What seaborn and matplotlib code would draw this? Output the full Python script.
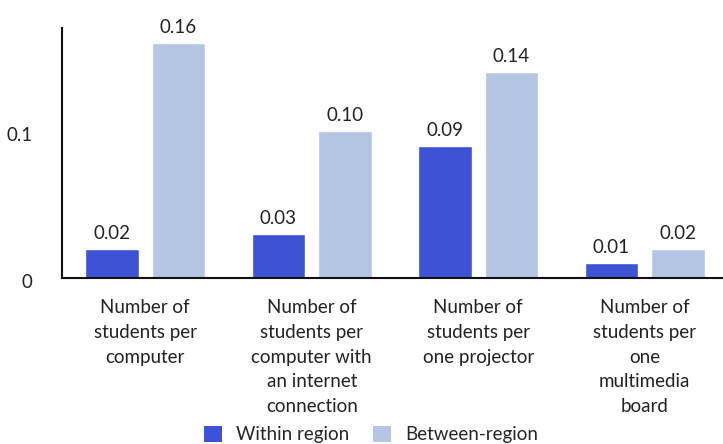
import numpy as np
import pandas as pd
import matplotlib.pyplot as plt
import matplotlib.transforms as mtransforms
import seaborn as sns
from matplotlib.patches import Patch

# 데이터
categories = ["Number of\nstudents per\ncomputer",
              "Number of\nstudents per\ncomputer with\nan internet\nconnection",
              "Number of\nstudents per\none projector",
              "Number of\nstudents per\none\nmultimedia\nboard"]
within_region = [0.02, 0.03, 0.09, 0.01]
between_region = [0.16, 0.10, 0.14, 0.02]
series_names = ["Within region", "Between-region"]
colors = ["#3E52D6", "#B4C6E4"]

df = pd.DataFrame({
    "category": categories * 2,
    "value": within_region + between_region,
    "series": [series_names[0]] * 4 + [series_names[1]] * 4,
})

sns.set_style("white")
plt.rcParams['font.family'] = ['Lato', 'DejaVu Sans']
fs = 13.5

fig = plt.figure(figsize=(7.23, 4.44), dpi=100)
ax = fig.add_axes([62 / 723, 1 - 278 / 444, 1 - 62 / 723, (278 - 28) / 444])

sns.barplot(data=df, x="category", y="value", hue="series", palette=colors,
            width=0.8, gap=0.2, ax=ax, legend=False, saturation=1)

for cont in ax.containers:
    ax.bar_label(cont, fmt="%.2f", padding=5, fontsize=fs, color="#222222")

ax.set_ylim(0, 0.17)
ax.set_xlim(-0.5, 3.47)
ax.set_yticks([0, 0.1])
ax.set_yticklabels(["0", "0.1"])
ax.set_xlabel("")
ax.set_ylabel("")
ax.tick_params(axis="y", length=0, pad=21, labelsize=fs, colors="#222222")
ax.tick_params(axis="x", length=0, pad=15, labelsize=fs, colors="#222222")
for lab in ax.get_xticklabels():
    lab.set_linespacing(1.56)
# y 라벨 살짝 아래로
shift = mtransforms.ScaledTranslation(0, -3 / 100, fig.dpi_scale_trans)
for lab in ax.get_yticklabels():
    lab.set_transform(lab.get_transform() + shift)

sns.despine(ax=ax, top=True, right=True)
for s in ["left", "bottom"]:
    ax.spines[s].set_color("#111111")
    ax.spines[s].set_linewidth(1.5)

handles = [Patch(facecolor=c, edgecolor="none") for c in colors]
fig.legend(handles, series_names, loc="lower center", ncol=2, frameon=False,
           bbox_to_anchor=(0.513, -0.036), handlelength=0.95, handleheight=0.95,
           columnspacing=1.3, fontsize=fs, handletextpad=0.75)

fig.savefig("out.png", dpi=100)
